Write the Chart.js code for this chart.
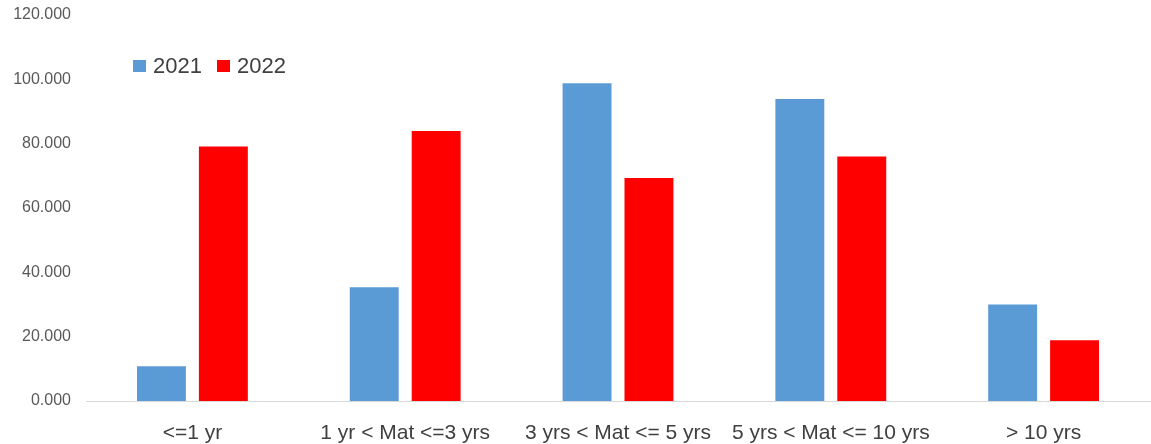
<!DOCTYPE html>
<html>
<head>
<meta charset="utf-8">
<script src="https://cdn.jsdelivr.net/npm/chart.js@4/dist/chart.umd.min.js"></script>
<style>
  html, body { margin: 0; padding: 0; background: #ffffff; }
  #wrap { position: relative; width: 1151px; height: 444px; }
  #legend { position: absolute; left: 133px; top: 53px; font-family: "Liberation Sans", Arial, sans-serif; font-size: 22px; color: #404040; white-space: nowrap; }
  #legend span.item { display: inline-block; margin-right: 15px; }
  #legend i { display: inline-block; width: 13px; height: 12px; margin-right: 7px; vertical-align: 1px; }
</style>
</head>
<body>
<div id="wrap">
  <canvas id="c" width="1151" height="444"></canvas>
  <div id="legend"></div>
</div>
<script>
const categories = ["<=1 yr", "1 yr < Mat <=3 yrs", "3 yrs < Mat <= 5 yrs", "5 yrs < Mat <= 10 yrs", "> 10 yrs"];
const seriesNames = ["2021", "2022"];
const values2021 = [10.8, 35.4, 98.8, 93.9, 30.0];
const values2022 = [79.1, 83.9, 69.3, 76.0, 18.9];
const yTickValues = [0, 20, 40, 60, 80, 100, 120];
const yTickLabels = ["0.000", "20.000", "40.000", "60.000", "80.000", "100.000", "120.000"];
const colors = ["#5B9BD5", "#FF0000"];

const legend = document.getElementById('legend');
seriesNames.forEach((n, i) => {
  const s = document.createElement('span');
  s.className = 'item';
  const b = document.createElement('i');
  b.style.background = colors[i];
  s.appendChild(b);
  s.appendChild(document.createTextNode(n));
  legend.appendChild(s);
});

new Chart(document.getElementById('c'), {
  type: 'bar',
  data: {
    labels: categories,
    datasets: [
      { label: seriesNames[0], data: values2021, backgroundColor: colors[0], borderWidth: 0, categoryPercentage: 0.582, barPercentage: 0.79 },
      { label: seriesNames[1], data: values2022, backgroundColor: colors[1], borderWidth: 0, categoryPercentage: 0.582, barPercentage: 0.79 }
    ]
  },
  options: {
    responsive: false,
    animation: false,
    devicePixelRatio: 1,
    layout: { padding: { left: 0, right: 1, top: 15, bottom: 0 } },
    plugins: { legend: { display: false }, tooltip: { enabled: false } },
    scales: {
      x: {
        grid: { display: false, drawTicks: false },
        border: { display: true, color: '#d9d9d9', width: 1 },
        ticks: { color: '#404040', font: { family: '"Liberation Sans", Arial, sans-serif', size: 21 }, padding: 20, maxRotation: 0, autoSkip: false },
        afterFit: (s) => { s.height = 43; s.paddingLeft = 0; s.paddingRight = 0; }
      },
      y: {
        min: 0, max: 120,
        grid: { display: false, drawTicks: false },
        border: { display: false },
        afterBuildTicks: (axis) => { axis.ticks = yTickValues.map(v => ({ value: v })); },
        ticks: {
          color: '#595959',
          font: { family: '"Liberation Sans", Arial, sans-serif', size: 16 },
          padding: 15,
          callback: (v) => { const i = yTickValues.indexOf(v); return i >= 0 ? yTickLabels[i] : ''; }
        },
        afterFit: (s) => { s.width = 86; s.paddingTop = 0; s.paddingBottom = 0; }
      }
    }
  }
});
</script>
</body>
</html>
